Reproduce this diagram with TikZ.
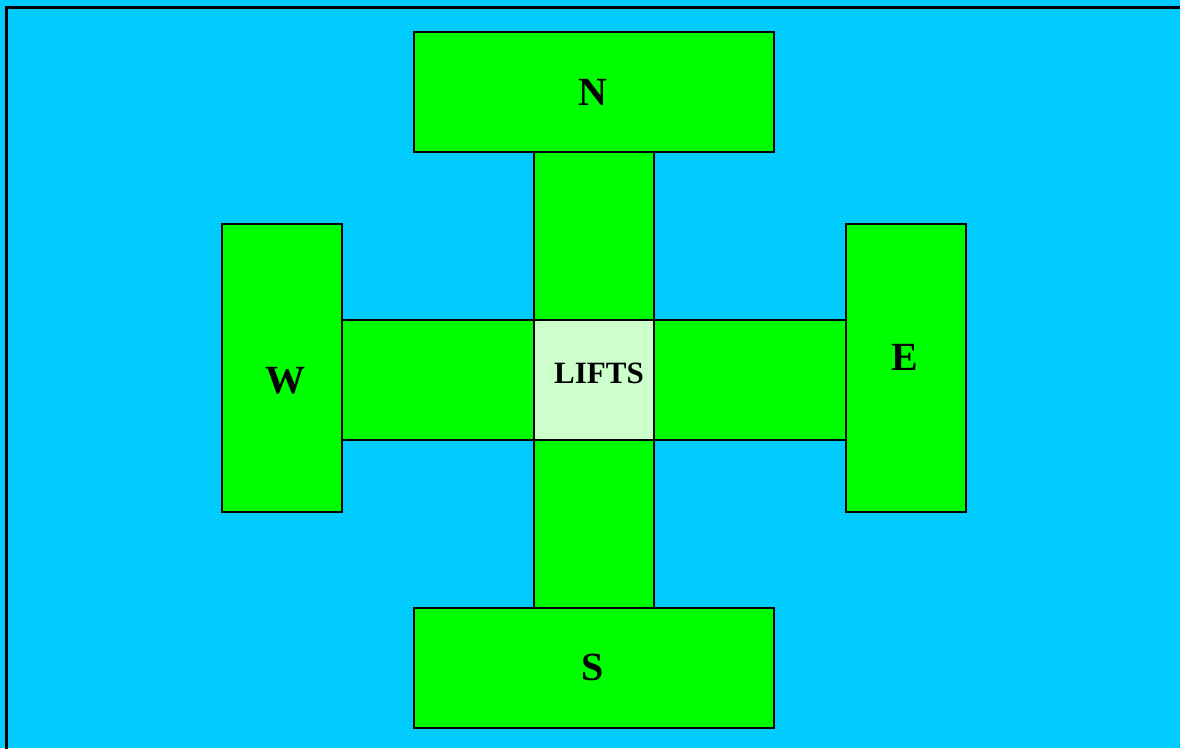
\documentclass[tikz,border=0pt]{standalone}
\usepackage{fontspec}
\setmainfont{Liberation Serif}
\definecolor{sky}{HTML}{00CCFF}
\definecolor{grn}{HTML}{00FF00}
\definecolor{pale}{HTML}{CCFFCC}
\begin{document}
\begin{tikzpicture}[x=1pt,y=-1pt,
  room/.style={draw=black,line width=1.6pt,fill=grn,inner sep=0pt},
  lbl/.style={font=\bfseries\fontsize{40}{40}\selectfont,anchor=base,inner sep=0pt}]
\useasboundingbox (0,0) rectangle (1180,748);
\fill[sky] (0,0) rectangle (1180,748);
\draw[line width=2.6pt] (6.5,760) -- (6.5,7.5) -- (1190,7.5);
% corridors
\draw[room] (534,152) rectangle (654,320) coordinate (cn);
\draw[room] (534,440) rectangle (654,608) coordinate (cs);
\draw[room] (342,320) rectangle (534,440) coordinate (cw);
\draw[room] (654,320) rectangle (846,440) coordinate (ce);
\draw[room,fill=pale] (534,320) rectangle (654,440) coordinate (lifts);
% wings
\draw[room] (414,32) rectangle (774,152) coordinate (nbox);
\draw[room] (414,608) rectangle (774,728) coordinate (sbox);
\draw[room] (222,224) rectangle (342,512) coordinate (wbox);
\draw[room] (846,224) rectangle (966,512) coordinate (ebox);
% labels
\node[lbl] (N) at (593,105) {N};
\node[lbl] (S) at (593,680.5) {S};
\node[lbl] (W) at (285,393) {W};
\node[lbl] (E) at (905,370) {E};
\node[lbl,font=\bfseries\fontsize{31}{31}\selectfont] (L) at (599,383) {LIFTS};
\end{tikzpicture}
\end{document}
